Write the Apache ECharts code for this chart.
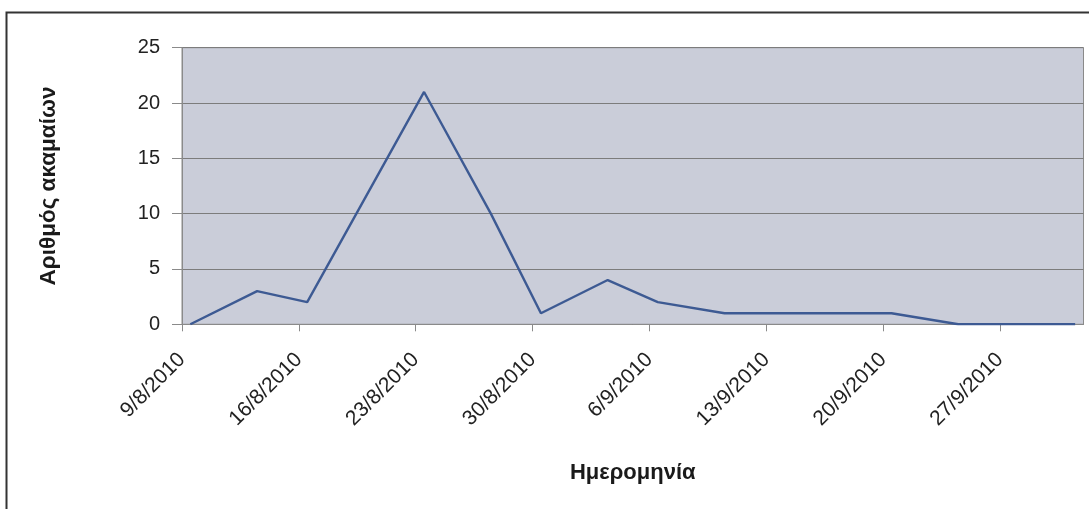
<!DOCTYPE html>
<html>
<head>
<meta charset="utf-8">
<script src="https://cdn.jsdelivr.net/npm/echarts@6/dist/echarts.min.js"></script>
<style>
  html, body { margin: 0; padding: 0; background: #ffffff; }
  #chart { width: 1089px; height: 509px; }
</style>
</head>
<body>
<div id="chart"></div>
<script>
// Observation dates and number of cases on each
const startDate = '2010-08-09';
const endDate = '2010-10-02';
const dates = ['2010-08-09', '2010-08-13', '2010-08-16', '2010-08-23', '2010-08-27',
               '2010-08-30', '2010-09-03', '2010-09-06', '2010-09-10', '2010-09-13',
               '2010-09-17', '2010-09-20', '2010-09-24', '2010-09-27', '2010-10-01'];
const counts = [0, 3, 2, 21, 10, 1, 4, 2, 1, 1, 1, 1, 0, 0, 0];
// Weekly tick labels (every Monday)
const tickLabels = ['9/8/2010', '16/8/2010', '23/8/2010', '30/8/2010',
                    '6/9/2010', '13/9/2010', '20/9/2010', '27/9/2010'];
const yTicks = [0, 5, 10, 15, 20, 25];

const DAY = 86400000;
const dayIndex = d => Math.round((Date.parse(d) - Date.parse(startDate)) / DAY);
const totalDays = dayIndex(endDate);
// each point sits in the middle of its day slot
const seriesData = dates.map((d, i) => [dayIndex(d) + 0.5, counts[i]]);

const chart = echarts.init(document.getElementById('chart'));
chart.setOption({
  backgroundColor: '#ffffff',
  animation: false,
  graphic: [{
    type: 'rect',
    left: 4, top: 10, z: -10,
    shape: { width: 1200, height: 600 },
    style: { fill: 'none', stroke: '#333333', lineWidth: 2 }
  }],
  grid: {
    left: 182, right: 5.5, top: 47.7, bottom: 184.7,
    outerBoundsMode: 'none',
    show: true,
    backgroundColor: '#cacdd9',
    borderColor: '#8a8a8a',
    borderWidth: 1
  },
  xAxis: {
    type: 'value',
    min: 0, max: totalDays, interval: 7,
    name: 'Ημερομηνία',
    nameLocation: 'middle',
    nameGap: 138,
    nameTextStyle: { fontFamily: 'Liberation Sans, Arial, sans-serif', fontSize: 22, fontWeight: 'bold', color: '#1a1a1a' },
    axisLine: { show: true, lineStyle: { color: '#8a8a8a', width: 1 } },
    axisTick: { show: true, length: 7, lineStyle: { color: '#8a8a8a' } },
    splitLine: { show: false },
    axisLabel: {
      rotate: 45,
      margin: 32,
      fontFamily: 'Liberation Sans, Arial, sans-serif',
      fontSize: 21,
      color: '#222222',
      showMaxLabel: false,
      formatter: v => (v % 7 === 0 && tickLabels[v / 7]) ? tickLabels[v / 7] : ''
    }
  },
  yAxis: {
    type: 'value',
    min: yTicks[0], max: yTicks[yTicks.length - 1], interval: 5,
    name: 'Αριθμός ακαμαίων',
    nameLocation: 'middle',
    nameGap: 122,
    nameTextStyle: { fontFamily: 'Liberation Sans, Arial, sans-serif', fontSize: 22.5, fontWeight: 'bold', color: '#1a1a1a' },
    axisLine: { show: true, lineStyle: { color: '#8a8a8a', width: 1 } },
    axisTick: { show: true, length: 10, lineStyle: { color: '#8a8a8a' } },
    splitLine: { show: true, lineStyle: { color: '#7c7c7c', width: 1.2 } },
    axisLabel: {
      margin: 22,
      fontFamily: 'Liberation Sans, Arial, sans-serif',
      fontSize: 20,
      color: '#222222'
    }
  },
  series: [{
    type: 'line',
    data: seriesData,
    showSymbol: false,
    lineStyle: { color: '#3d5a93', width: 2.4 },
    itemStyle: { color: '#3d5a93' }
  }]
});
</script>
</body>
</html>
